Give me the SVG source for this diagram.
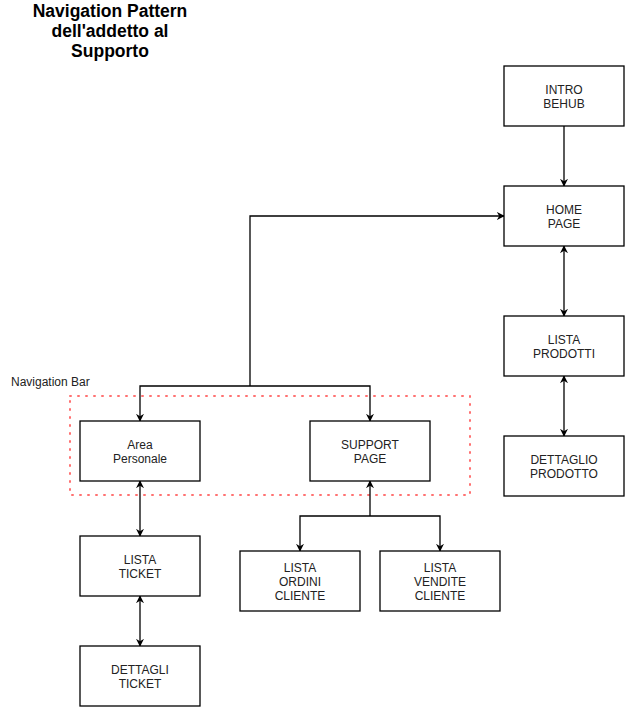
<svg xmlns="http://www.w3.org/2000/svg" width="625" height="707" viewBox="0 0 625 707">
  <style>
    .box { fill: #ffffff; stroke: #000000; stroke-width: 1.3; }
    .lbl { font-family: "Liberation Sans", Arial, sans-serif; font-size: 12px; fill: #222222; text-anchor: middle; }
    .edge { fill: none; stroke: #000000; stroke-width: 1.3; }
    .title { font-family: "Liberation Sans", Arial, sans-serif; font-size: 17.5px; font-weight: bold; fill: #000000; text-anchor: middle; }
  </style>
  <defs>
    <marker id="arrow" viewBox="0 0 10 10" refX="9" refY="5" markerWidth="8" markerHeight="8" markerUnits="userSpaceOnUse" orient="auto-start-reverse">
      <path d="M0,0 L10,5 L0,10 L3,5 Z" fill="#000000"/>
    </marker>
  </defs>
  <rect width="625" height="707" fill="#ffffff"/>

  <!-- title -->
  <text class="title" x="110" y="17">Navigation Pattern</text>
  <text class="title" x="110" y="37">dell'addetto al</text>
  <text class="title" x="110" y="57">Supporto</text>

  <!-- navigation bar container -->
  <g id="navbar">
    <rect x="70" y="396" width="400" height="99" fill="none" stroke="#ff4d4d" stroke-width="2" stroke-dasharray="1 7" stroke-linecap="round" opacity="0.8"/>
    <text x="11" y="386" font-family="'Liberation Sans', Arial, sans-serif" font-size="12px" fill="#222222">Navigation Bar</text>
  </g>

  <g id="connectors">
    <path class="edge" d="M564,126 V186" marker-end="url(#arrow)"/>
    <path class="edge" d="M564,246 V316" marker-start="url(#arrow)" marker-end="url(#arrow)"/>
    <path class="edge" d="M564,376 V436" marker-start="url(#arrow)" marker-end="url(#arrow)"/>
    <path class="edge" d="M250,386 V216 H504" marker-end="url(#arrow)"/>
    <path class="edge" d="M250,386 H140 V421" marker-end="url(#arrow)"/>
    <path class="edge" d="M250,386 H370 V421" marker-end="url(#arrow)"/>
    <path class="edge" d="M140,481 V536" marker-start="url(#arrow)" marker-end="url(#arrow)"/>
    <path class="edge" d="M140,596 V646" marker-start="url(#arrow)" marker-end="url(#arrow)"/>
    <path class="edge" d="M370,516 V481" marker-end="url(#arrow)"/>
    <path class="edge" d="M370,516 H300 V551" marker-end="url(#arrow)"/>
    <path class="edge" d="M370,516 H440 V551" marker-end="url(#arrow)"/>
  </g>

  <g id="intro-behub">
    <rect class="box" x="504" y="66" width="120" height="60"/>
    <text class="lbl" x="564" y="94">INTRO</text>
    <text class="lbl" x="564" y="108">BEHUB</text>
  </g>
  <g id="home-page">
    <rect class="box" x="504" y="186" width="120" height="60"/>
    <text class="lbl" x="564" y="214">HOME</text>
    <text class="lbl" x="564" y="228">PAGE</text>
  </g>
  <g id="lista-prodotti">
    <rect class="box" x="504" y="316" width="120" height="60"/>
    <text class="lbl" x="564" y="344">LISTA</text>
    <text class="lbl" x="564" y="358">PRODOTTI</text>
  </g>
  <g id="dettaglio-prodotto">
    <rect class="box" x="504" y="436" width="120" height="60"/>
    <text class="lbl" x="564" y="464">DETTAGLIO</text>
    <text class="lbl" x="564" y="478">PRODOTTO</text>
  </g>
  <g id="area-personale">
    <rect class="box" x="80" y="421" width="120" height="60"/>
    <text class="lbl" x="140" y="449">Area</text>
    <text class="lbl" x="140" y="463">Personale</text>
  </g>
  <g id="support-page">
    <rect class="box" x="310" y="421" width="120" height="60"/>
    <text class="lbl" x="370" y="449">SUPPORT</text>
    <text class="lbl" x="370" y="463">PAGE</text>
  </g>
  <g id="lista-ticket">
    <rect class="box" x="80" y="536" width="120" height="60"/>
    <text class="lbl" x="140" y="564">LISTA</text>
    <text class="lbl" x="140" y="578">TICKET</text>
  </g>
  <g id="dettagli-ticket">
    <rect class="box" x="80" y="646" width="120" height="60"/>
    <text class="lbl" x="140" y="674">DETTAGLI</text>
    <text class="lbl" x="140" y="688">TICKET</text>
  </g>
  <g id="lista-ordini-cliente">
    <rect class="box" x="240" y="551" width="120" height="60"/>
    <text class="lbl" x="300" y="572">LISTA</text>
    <text class="lbl" x="300" y="586">ORDINI</text>
    <text class="lbl" x="300" y="600">CLIENTE</text>
  </g>
  <g id="lista-vendite-cliente">
    <rect class="box" x="380" y="551" width="120" height="60"/>
    <text class="lbl" x="440" y="572">LISTA</text>
    <text class="lbl" x="440" y="586">VENDITE</text>
    <text class="lbl" x="440" y="600">CLIENTE</text>
  </g>
</svg>
